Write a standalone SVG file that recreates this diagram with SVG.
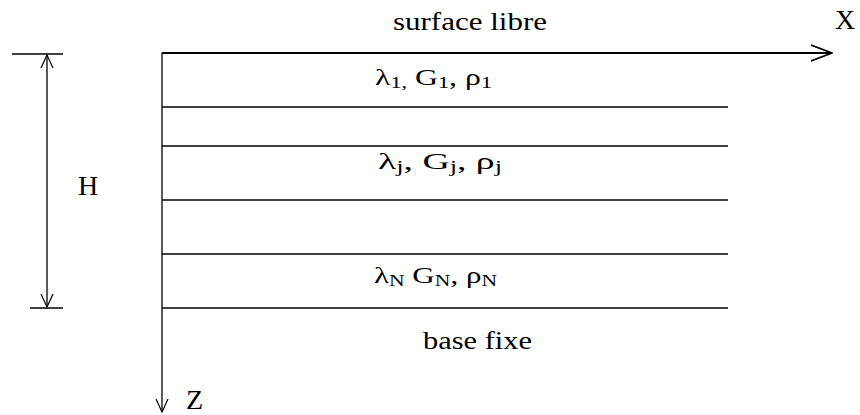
<svg xmlns="http://www.w3.org/2000/svg" width="860" height="415" viewBox="0 0 860 415">
<defs>
<style>
.t{font-family:"Liberation Serif","DejaVu Serif",serif;font-size:25px;fill:#000}
.b{font-size:28px}
.g{font-size:23px}
.s{font-size:16px}
.ln{stroke:#000;stroke-width:1.3;fill:none}
.ax{stroke:#000;stroke-width:2;fill:none}
</style>
<marker id="arr" viewBox="0 0 14 14" refX="13" refY="7" markerWidth="14" markerHeight="14" markerUnits="userSpaceOnUse" orient="auto-start-reverse">
<path d="M0,1 L13,7 L0,13" fill="none" stroke="#000" stroke-width="1.2"/>
</marker>
<marker id="arrX" viewBox="0 0 22 18" refX="21" refY="9" markerWidth="22" markerHeight="18" markerUnits="userSpaceOnUse" orient="auto">
<path d="M0,1 L21,9 L0,17" fill="none" stroke="#000" stroke-width="1.8"/>
</marker>
</defs>
<g id="connectors">
<line class="ax" x1="162" y1="53" x2="832" y2="53" marker-end="url(#arrX)"/>
<line class="ln" x1="162" y1="53" x2="162" y2="412" marker-end="url(#arr)"/>
<line class="ln" x1="162" y1="107" x2="728" y2="107"/>
<line class="ln" x1="162" y1="146" x2="728" y2="146"/>
<line class="ln" x1="162" y1="200" x2="728" y2="200"/>
<line class="ln" x1="162" y1="254" x2="728" y2="254"/>
<line class="ln" x1="162" y1="308" x2="728" y2="308"/>
<line class="ln" x1="12" y1="54" x2="63" y2="54"/>
<line class="ln" x1="30" y1="308" x2="63" y2="308"/>
<line class="ln" x1="47" y1="55" x2="47" y2="307" marker-start="url(#arr)" marker-end="url(#arr)"/>
</g>
<g id="labels">
<text class="t" x="393" y="30" textLength="154" lengthAdjust="spacingAndGlyphs">surface libre</text>
<text class="t b" x="835" y="29">X</text>
<text class="t b" x="186" y="409">Z</text>
<text class="t b" x="78" y="195">H</text>
<text class="t" x="423" y="349" textLength="109" lengthAdjust="spacingAndGlyphs">base fixe</text>
<text class="t g" x="375" y="85" textLength="117" lengthAdjust="spacingAndGlyphs">λ<tspan class="s" dy="3">1,</tspan><tspan dy="-3"> G</tspan><tspan class="s" dy="3">1</tspan><tspan dy="-3">, ρ</tspan><tspan class="s" dy="3">1</tspan></text>
<text class="t g" x="378" y="169" textLength="124" lengthAdjust="spacingAndGlyphs">λ<tspan class="s" dy="3">j</tspan><tspan dy="-3">, G</tspan><tspan class="s" dy="3">j</tspan><tspan dy="-3">, ρ</tspan><tspan class="s" dy="3">j</tspan></text>
<text class="t g" x="374" y="283" textLength="123" lengthAdjust="spacingAndGlyphs">λ<tspan class="s" dy="3">N</tspan><tspan dy="-3"> G</tspan><tspan class="s" dy="3">N</tspan><tspan dy="-3">, ρ</tspan><tspan class="s" dy="3">N</tspan></text>
</g>
</svg>
